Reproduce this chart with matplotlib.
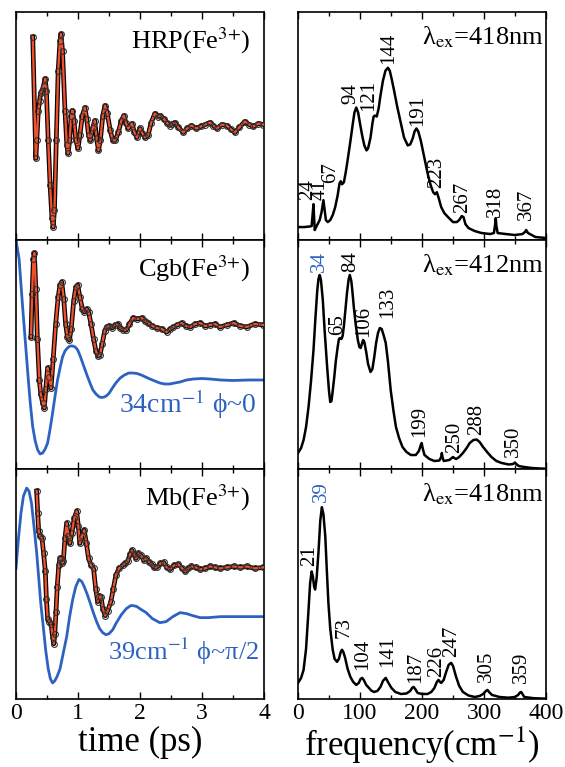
import matplotlib
matplotlib.use('Agg')
import matplotlib.pyplot as plt
from matplotlib.ticker import MultipleLocator

plt.rcParams['font.family'] = ['Liberation Serif', 'DejaVu Serif']
plt.rcParams['mathtext.fontset'] = 'stix'

# ---- time-domain traces (time in ps, signal in arb. units) ----
hrp_t = [0.27, 0.32, 0.335, 0.36, 0.38, 0.40, 0.42, 0.445, 0.47, 0.49, 0.52, 0.55, 0.58, 0.60,
         0.62, 0.65, 0.68, 0.71, 0.726, 0.75, 0.79, 0.82, 0.84, 0.865, 0.89, 0.91, 0.935, 0.965,
         1.00, 1.03, 1.07, 1.11, 1.14, 1.17, 1.20, 1.235, 1.27, 1.30, 1.33, 1.36, 1.40, 1.435,
         1.47, 1.52, 1.56, 1.60, 1.65, 1.70, 1.74, 1.77, 1.81, 1.87, 1.91, 1.95, 2.00, 2.04,
         2.08, 2.13, 2.18, 2.24, 2.29, 2.33, 2.38, 2.43, 2.48, 2.52, 2.56, 2.62, 2.70, 2.76,
         2.83, 2.91, 2.98, 3.05, 3.13, 3.18, 3.24, 3.32, 3.40, 3.47, 3.53, 3.60, 3.69, 3.76,
         3.83, 3.91, 3.99]
hrp_y = [204, 82, 100, 130, 140, 148, 150, 155, 162, 150, 100, 55, 22, 13,
         30, 100, 170, 200, 207, 190, 130, 95, 87, 100, 125, 130, 120, 100,
         92, 105, 125, 133, 122, 105, 100, 112, 120, 102, 90, 100, 125, 135,
         128, 110, 100, 100, 108, 120, 125, 118, 112, 117, 108, 103, 112, 107,
         103, 105, 118, 127, 124, 125, 122, 118, 115, 117, 118, 113, 108, 112,
         115, 112, 114, 116, 118, 115, 112, 116, 115, 111, 108, 113, 119, 116,
         114, 117, 116]

cgb_t = [0.242, 0.26, 0.28, 0.296, 0.32, 0.345, 0.376, 0.40, 0.43, 0.457, 0.48, 0.51, 0.53,
         0.565, 0.60, 0.64, 0.68, 0.71, 0.737, 0.77, 0.80, 0.83, 0.86, 0.89, 0.93, 0.965, 0.995,
         1.03, 1.07, 1.10, 1.14, 1.17, 1.21, 1.25, 1.29, 1.32, 1.355, 1.39, 1.43, 1.46, 1.50,
         1.55, 1.60, 1.64, 1.68, 1.73, 1.78, 1.83, 1.89, 1.95, 2.03, 2.08, 2.13, 2.20, 2.27,
         2.35, 2.43, 2.49, 2.54, 2.60, 2.67, 2.74, 2.81, 2.89, 2.97, 3.05, 3.13, 3.21, 3.29,
         3.40, 3.51, 3.62, 3.72, 3.85, 3.99]
cgb_y = [132, 175, 210, 216, 180, 130, 89, 75, 66, 61, 80, 101, 92,
         81, 110, 145, 172, 184, 187, 170, 145, 132, 129, 140, 168, 182, 184,
         172, 160, 157, 160, 157, 145, 130, 118, 113, 114, 125, 138, 142, 143,
         141, 144, 145, 141, 139, 139, 145, 151, 150, 151, 148, 146, 143, 141,
         140, 137, 140, 142, 144, 146, 143, 142, 145, 146, 143, 144, 145, 142,
         144, 146, 143, 142, 145, 144]

mb_t = [0.333, 0.35, 0.366, 0.39, 0.42, 0.445, 0.473, 0.49, 0.51, 0.54, 0.565, 0.59, 0.61,
        0.625, 0.645, 0.665, 0.69, 0.71, 0.726, 0.745, 0.763, 0.79, 0.817, 0.845, 0.87, 0.90,
        0.94, 0.978, 1.005, 1.03, 1.065, 1.10, 1.135, 1.17, 1.21, 1.25, 1.285, 1.317, 1.345,
        1.37, 1.40, 1.44, 1.48, 1.53, 1.57, 1.61, 1.66, 1.72, 1.76, 1.80, 1.84, 1.87, 1.90,
        1.935, 1.975, 2.016, 2.06, 2.10, 2.15, 2.19, 2.23, 2.27, 2.33, 2.38, 2.43, 2.48, 2.55,
        2.62, 2.68, 2.73, 2.78, 2.83, 2.90, 2.97, 3.05, 3.13, 3.21, 3.29, 3.40, 3.51, 3.62,
        3.72, 3.85, 3.99]
mb_y = [207, 185, 167, 162, 160, 145, 127, 100, 80, 77, 75, 62, 55,
        65, 87, 112, 133, 140, 140, 135, 137, 160, 175, 162, 155, 165,
        180, 187, 172, 155, 162, 168, 155, 140, 133, 130, 110, 97, 103,
        102, 90, 83, 88, 97, 110, 123, 130, 133, 135, 137, 144, 148, 144,
        140, 145, 143, 138, 140, 136, 134, 131, 131, 135, 136, 131, 129, 133,
        134, 130, 127, 130, 132, 131, 129, 130, 132, 131, 130, 131, 132, 131,
        132, 130, 131]

# single-mode components (blue)
cgb_mode_t = [0.0, 0.05, 0.107, 0.15, 0.19, 0.23, 0.27, 0.31, 0.35, 0.39, 0.43, 0.47, 0.51,
              0.55, 0.59, 0.63, 0.67, 0.71, 0.75, 0.79, 0.83, 0.87, 0.914, 0.955, 0.995, 1.035,
              1.075, 1.115, 1.156, 1.20, 1.24, 1.29, 1.344, 1.385, 1.425, 1.465, 1.505, 1.555,
              1.61, 1.68, 1.75, 1.82, 1.88, 1.95, 2.02, 2.09, 2.16, 2.24, 2.32, 2.40, 2.48,
              2.56, 2.645, 2.75, 2.86, 3.0, 3.13, 3.3, 3.5, 3.75, 3.99]
cgb_mode_y = [229, 210, 162, 128, 96, 66, 42, 28, 19, 15, 16, 20, 26,
              40, 56, 73, 89, 101, 112, 118, 121, 123, 123, 122, 119, 113,
              106, 99, 92, 85, 79, 75, 72, 71.5, 72, 73.5, 76, 81,
              86, 91, 94, 96, 96, 95.5, 94, 92, 90, 88, 86, 85, 85,
              86, 87, 89, 90, 90.5, 90, 89, 88.5, 89, 89]

mb_mode_t = [0.0, 0.04, 0.08, 0.12, 0.172, 0.21, 0.25, 0.29, 0.333, 0.37, 0.40, 0.44, 0.48,
             0.52, 0.555, 0.59, 0.625, 0.66, 0.71, 0.76, 0.817, 0.865, 0.914, 0.965, 1.016,
             1.06, 1.10, 1.15, 1.20, 1.247, 1.30, 1.35, 1.40, 1.45, 1.50, 1.56, 1.62, 1.70,
             1.78, 1.85, 1.89, 1.95, 2.02, 2.1, 2.2, 2.32, 2.42, 2.53, 2.645, 2.75, 2.85,
             2.97, 3.1, 3.3, 3.5, 3.75, 3.99]
mb_mode_y = [130, 160, 185, 202, 210, 207, 195, 172, 146, 118, 95, 72, 48,
             30, 20, 16, 18, 22, 30, 45, 62, 82, 99, 112, 119,
             117, 112, 104, 95, 86, 77, 70, 66, 64, 65, 69, 76, 84,
             90, 93, 93, 92, 89, 86, 80, 76, 77, 82, 86, 85, 83,
             81, 81, 82, 82, 82, 82]

# ---- spectra (frequency in cm-1, amplitude in arb. units) ----
hrp_f = [0, 10, 18, 22, 23.5, 25, 26, 27, 30, 35, 38, 41, 43, 45, 48, 52, 56, 60, 64, 67, 69,
         71, 74, 77, 80, 84, 88, 91, 94, 97, 100, 103.5, 107, 110.5, 113, 117, 120, 122, 124,
         127, 130, 133, 137, 141, 145, 148, 151, 155, 160, 166, 171, 177, 181, 185, 188, 191,
         194, 198, 203, 209, 214, 218, 221, 224, 227, 231, 236, 242, 250, 256, 260, 264, 267,
         270, 275, 285, 296, 310, 316, 318, 319, 320, 322, 335, 350, 362, 366, 368, 371, 383, 400]
hrp_a = [13, 13, 13.5, 14, 25, 36, 22, 10, 14, 20, 28, 40, 30, 20, 18, 20, 25, 33, 45, 57, 59,
         56, 58, 68, 80, 97, 115, 128, 133, 128, 117, 105, 95, 90, 92, 103, 117, 124, 125,
         124, 132, 145, 160, 170, 173, 170, 162, 150, 134, 117, 103, 95, 96, 102, 109, 112,
         109, 100, 85, 67, 55, 48, 46, 48, 42, 33, 27, 23, 18, 18, 20, 24, 23,
         16, 12, 9, 7, 6, 7, 16, 22, 14, 7, 6, 5, 6, 8, 10, 7, 3, 2]

cgb_f = [0, 5, 9, 13, 17, 21, 25, 28, 31, 33, 35, 37, 40, 43, 47, 50, 52, 54, 56, 58.5, 61, 64,
         66, 68, 70, 72, 74, 76, 79, 81.5, 83.5, 86, 88, 90, 93, 96.5, 99, 101, 103, 105, 107,
         110, 113, 117, 120, 123, 126, 129, 132, 135, 138, 141.5, 145, 149.5, 154, 158, 163,
         168.5, 175, 182, 190, 195, 198, 199.5, 201, 204, 212, 220, 228, 231, 232, 233, 235,
         244, 248, 250, 252, 255, 260, 266, 272, 277, 283, 288, 293, 298.5, 305, 312, 320,
         328.5, 340, 347, 350, 352, 356, 365, 377, 390, 400]
cgb_a = [16, 21, 29, 42, 62, 88, 119, 150, 178, 190, 194, 189, 169, 138, 102, 78, 67, 68, 78,
         92, 108, 122, 130, 131, 130, 133, 143, 156, 176, 189, 194, 188, 176, 162, 145, 129,
         122, 121, 125, 129, 127, 117, 105, 97, 100, 112, 126, 136, 141, 140, 134, 126, 108,
         79, 58, 42, 31, 22, 17, 14, 14, 18, 24, 26, 21, 14, 10, 8, 8.5, 12, 16, 12, 8,
         9, 11, 12, 11, 10, 12, 16, 21, 26, 29, 29.5, 27, 22, 17, 12, 8,
         6, 4.5, 5, 6.5, 5, 3, 2, 1, 0.5, 0.3]

mb_f = [0, 5, 9, 13, 17, 19.5, 22, 24, 26, 27.6, 30, 33, 36, 38.5, 41, 44, 46.5, 49, 52, 56,
        59, 63, 66, 69, 71, 73, 76, 80, 84.5, 89, 94, 98, 101, 103.5, 106, 110, 113, 118,
        122.5, 128, 133, 137, 141.5, 145, 150.7, 157, 166, 175, 181, 184, 186.5, 189, 193,
        200, 209, 215, 220, 224, 226.6, 229, 231, 235, 239, 243, 247, 250, 255, 260, 266,
        275, 285, 293, 298.6, 303, 305.7, 308, 313, 325, 339, 350, 355, 358, 360, 362, 365,
        380, 400]
mb_a = [16, 21, 29, 50, 89, 115, 127, 122, 112, 109, 120, 146, 178, 191, 184, 162, 128, 96,
        70, 49, 40, 37, 40, 47, 49, 47, 41, 30, 22, 17, 14, 16, 20, 21, 19, 14, 12, 8.5,
        7, 8, 12, 18, 21, 17, 11, 7, 5, 5.5, 8, 11, 12, 10, 6,
        5, 5, 7, 11, 17, 19, 17, 16, 19, 27, 34, 36, 33, 22, 13, 7,
        3.5, 2, 3, 5, 8, 9, 7, 4, 2, 1.3, 2, 4, 6.5, 7, 5, 2,
        0.8, 0.3]

# peak labels
hrp_peaks = ['24', '41', '67', '94', '121', '144', '191', '223', '267', '318', '367']
cgb_peaks = ['34', '65', '84', '106', '133', '199', '250', '288', '350']
mb_peaks = ['21', '39', '73', '104', '141', '187', '226', '247', '305', '359']

# label anchor positions (x in cm-1, y bottom of text)
hrp_lab_x = [15, 36, 53, 86, 114, 147, 193, 224, 266, 318, 369]
hrp_lab_y = [40, 40, 57, 137, 130, 177, 115, 52, 27, 23, 20]
cgb_lab_x = [35, 64, 85, 106, 144, 196, 253, 288, 347]
cgb_lab_y = [197, 134, 197, 132, 151, 32, 16, 34, 12]
mb_lab_x = [18, 38.5, 74, 104, 144, 190, 223, 247, 304, 360]
mb_lab_y = [132, 196, 61, 29, 32, 16, 22, 42, 17, 16]

names = ['HRP(Fe$^{3{+}}$)', 'Cgb(Fe$^{3{+}}$)', 'Mb(Fe$^{3{+}}$)']
lambdas = ['418', '412', '418']

red = '#f0502d'
blue = '#2e62c0'

fig = plt.figure(figsize=(5.65, 7.67), dpi=100)
W, H = 565.0, 767.0
tops = [12, 240, 469]
hts = [228, 229, 230]

traces = [(hrp_t, hrp_y), (cgb_t, cgb_y), (mb_t, mb_y)]
modes = [None, (cgb_mode_t, cgb_mode_y), (mb_mode_t, mb_mode_y)]
spectra = [(hrp_f, hrp_a), (cgb_f, cgb_a), (mb_f, mb_a)]
peaks = [(hrp_peaks, hrp_lab_x, hrp_lab_y), (cgb_peaks, cgb_lab_x, cgb_lab_y),
         (mb_peaks, mb_lab_x, mb_lab_y)]
blue_peak = [None, '34', '39']


def style_axis(ax, major, minor, last):
    ax.xaxis.set_major_locator(MultipleLocator(major))
    ax.xaxis.set_minor_locator(MultipleLocator(minor))
    ax.tick_params(axis='x', which='both', direction='in', top=True, bottom=True,
                   labelbottom=last, labelsize=17, width=1.0)
    ax.tick_params(axis='x', which='major', length=5, pad=3)
    ax.tick_params(axis='x', which='minor', length=3)
    ax.set_yticks([])
    for s in ax.spines.values():
        s.set_linewidth(1.2)


for i in range(3):
    y0 = 1 - (tops[i] + hts[i]) / H
    h = hts[i] / H
    last = (i == 2)

    # left: time traces
    ax = fig.add_axes([16 / W, y0, 248 / W, h])
    t, y = traces[i]
    if modes[i] is not None:
        ax.plot(modes[i][0], modes[i][1], color=blue, lw=2.0, zorder=2)
    ax.plot(t, y, color='black', lw=3.4, zorder=3)
    ax.plot(t, y, color=red, lw=1.7, zorder=4)
    ax.plot(t, y, 'o', ms=4.2, mfc='none', mec='#333333', mew=0.8, zorder=5)
    ax.set_xlim(0, 4)
    ax.set_ylim(0, 229)
    style_axis(ax, 1, 0.5, last)
    ax.text(0.945, 0.94, names[i], transform=ax.transAxes, ha='right', va='top', fontsize=19)
    if i == 1:
        ax.text(0.97, 0.245, '34cm$^{-1}$ ϕ~0', transform=ax.transAxes,
                ha='right', va='baseline', fontsize=20, color=blue)
    if i == 2:
        ax.text(0.98, 0.17, '39cm$^{-1}$ ϕ~π/2', transform=ax.transAxes,
                ha='right', va='baseline', fontsize=19, color=blue)
    if last:
        ax.set_xlabel('time (ps)', fontsize=25, labelpad=1)

    # right: spectra
    ax2 = fig.add_axes([298 / W, y0, 248 / W, h])
    f, a = spectra[i]
    ax2.plot(f, a, color='black', lw=1.8)
    ax2.set_xlim(0, 400)
    ax2.set_ylim(0, 229)
    style_axis(ax2, 100, 50, last)
    ax2.text(0.99, 0.945, 'λ$_{\\rm ex}$=' + lambdas[i] + 'nm', transform=ax2.transAxes,
             ha='right', va='top', fontsize=19)
    labs, lx, ly = peaks[i]
    for lab, xx, yy in zip(labs, lx, ly):
        c = blue if lab == blue_peak[i] else 'black'
        ax2.text(xx, yy, lab, rotation=90, ha='center', va='bottom', fontsize=15, color=c)
    if last:
        ax2.set_xlabel('frequency(cm$^{-1}$)', fontsize=25, labelpad=0)

fig.savefig('out.png', dpi=100)
